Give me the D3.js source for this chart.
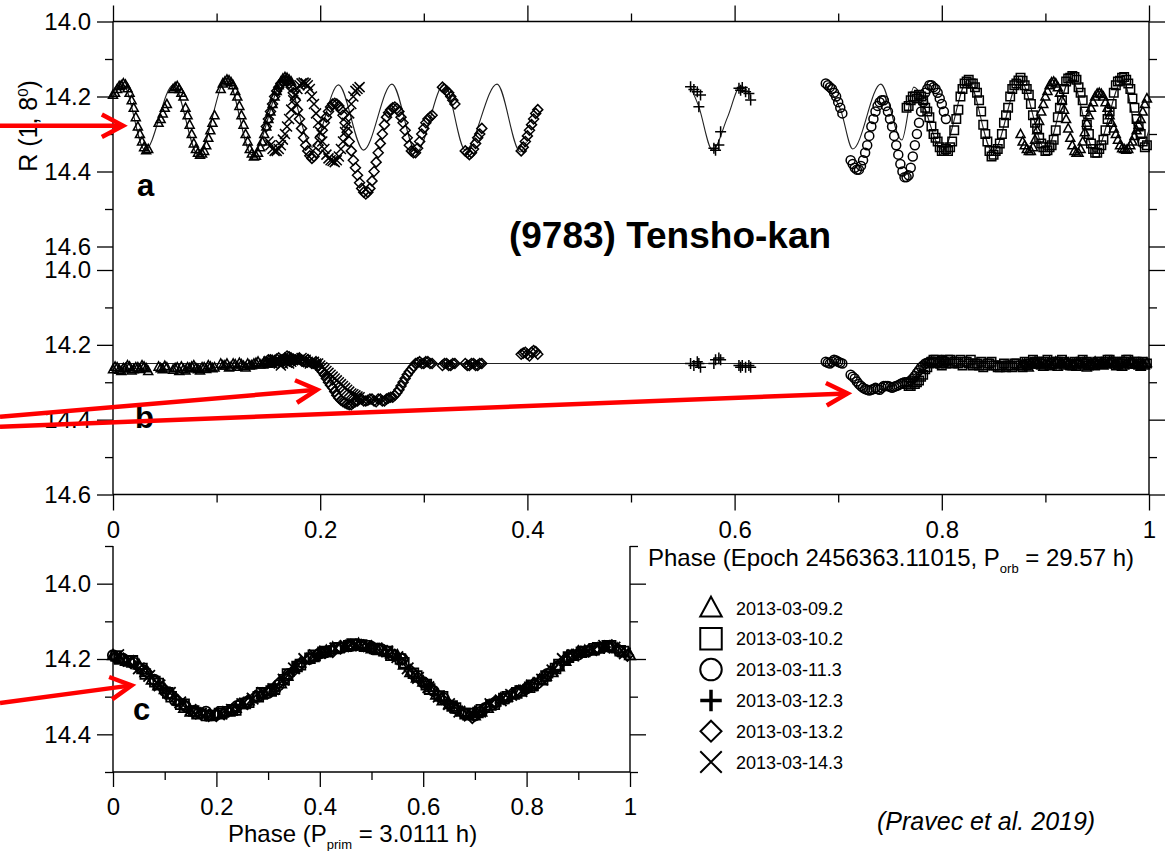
<!DOCTYPE html>
<html><head><meta charset="utf-8">
<script src="https://cdn.jsdelivr.net/npm/d3@7"></script>
<style>body{margin:0;background:#fff}svg{display:block}</style>
</head><body><svg id="c" width="1173" height="851"></svg>
<script>
// ---------------- DATA ----------------
const sessionLabels = ["2013-03-09.2","2013-03-10.2","2013-03-11.3","2013-03-12.3","2013-03-13.2","2013-03-14.3"];
const symbolTypes = ["triangle","square","circle","plus","diamond","cross"];

// orbital phase, panel a (R mag) and panel b (R mag with rotation removed)
const triPhase = [0,0.004,0.008,0.012,0.016,0.020,0.024,0.028,0.032,0.044,0.048,0.052,0.060,0.064,0.068,0.072,0.076,0.080,0.084,0.088,0.092,0.096,0.104,0.108,0.112,0.116,0.120,0.124,0.128,0.132,0.136,0.140,0.144,0.148,0.152,0.156,0.160,0.164,0.168,0.172,
  0.876,0.880,0.884,0.888,0.892,0.896,0.900,0.904,0.908,0.912,0.916,0.920,0.924,0.928,0.932,0.936,0.940,0.944,0.948,0.952,0.956,0.960,0.964,0.968,0.972,0.976,0.980,0.984,0.988,0.992,0.996];
const triA = [14.195,14.18,14.17,14.168,14.19,14.23,14.28,14.32,14.343,14.27,14.245,14.22,14.175,14.18,14.20,14.25,14.30,14.34,14.355,14.345,14.31,14.27,14.18,14.16,14.157,14.17,14.20,14.25,14.30,14.34,14.36,14.35,14.32,14.28,14.24,14.20,14.17,14.152,14.15,14.16,
  14.30,14.33,14.345,14.335,14.29,14.24,14.20,14.17,14.16,14.175,14.21,14.26,14.31,14.345,14.35,14.32,14.27,14.23,14.20,14.19,14.20,14.23,14.27,14.30,14.33,14.34,14.34,14.32,14.29,14.26,14.22];
const triB = [14.265,14.26,14.27,14.262,14.258,14.265,14.26,14.255,14.262,14.258,14.265,14.26,14.262,14.27,14.265,14.26,14.258,14.262,14.268,14.26,14.255,14.262,14.25,14.255,14.26,14.25,14.258,14.252,14.26,14.255,14.25,14.245,14.252,14.248,14.245,14.242,14.245,14.24,14.238,14.242,
  14.255,14.25,14.26,14.252,14.248,14.255,14.25,14.245,14.252,14.258,14.25,14.245,14.255,14.25,14.248,14.255,14.26,14.25,14.245,14.252,14.255,14.25,14.245,14.252,14.248,14.255,14.25,14.245,14.252,14.258,14.255];
const triPhase2 = [0.002,0.006,0.010,0.014,0.018,0.022,0.026,0.030,0.034,0.046,0.050,0.058,0.062,0.066,0.070,0.074,0.078,0.082,0.086,0.090,0.094,0.098,0.106,0.110,0.114,0.118,0.122,0.126,0.130,0.134,0.138,0.142,0.146,0.150,0.154,0.158,0.162,0.166,0.170,
  0.878,0.882,0.886,0.890,0.894,0.898,0.902,0.906,0.910,0.914,0.918,0.922,0.926,0.930,0.934,0.938,0.942,0.946,0.950,0.954,0.958,0.962,0.966,0.970,0.974,0.978,0.982,0.986,0.990,0.994,0.998];
const triA2 = [14.19,14.172,14.165,14.178,14.21,14.255,14.30,14.335,14.34,14.26,14.23,14.18,14.172,14.19,14.23,14.275,14.325,14.35,14.352,14.33,14.29,14.25,14.165,14.155,14.162,14.185,14.225,14.275,14.32,14.352,14.358,14.335,14.30,14.26,14.22,14.185,14.16,14.148,14.155,
  14.32,14.34,14.345,14.315,14.265,14.22,14.185,14.162,14.165,14.19,14.235,14.285,14.33,14.35,14.34,14.295,14.25,14.215,14.192,14.193,14.215,14.25,14.285,14.315,14.338,14.342,14.33,14.305,14.275,14.24,14.205];
const triB2 = [14.258,14.266,14.262,14.255,14.268,14.26,14.264,14.258,14.27,14.262,14.256,14.266,14.26,14.258,14.268,14.262,14.255,14.265,14.26,14.264,14.258,14.26,14.255,14.25,14.258,14.252,14.248,14.256,14.25,14.254,14.248,14.252,14.245,14.25,14.242,14.246,14.24,14.236,14.24,
  14.25,14.255,14.248,14.245,14.252,14.258,14.25,14.255,14.245,14.25,14.255,14.248,14.252,14.258,14.25,14.245,14.252,14.255,14.25,14.248,14.252,14.245,14.25,14.255,14.258,14.25,14.245,14.252,14.255,14.25,14.248];

const sqPhase = [0.766,0.770,0.774,0.778,0.782,0.786,0.790,0.794,0.798,0.802,0.806,0.810,0.814,0.818,0.822,0.826,0.830,0.834,0.838,0.842,0.846,0.850,0.854,0.858,0.862,0.866,0.870,0.874,0.878,0.882,0.886,0.890,0.894,0.898,0.902,0.906,0.910,0.914,0.918,0.922,0.926,0.930,0.934,0.938,0.942,0.946,0.950,0.954,0.958,0.962,0.966,0.970,0.974,0.978,0.982,0.986,0.990,0.994,0.998];
const sqA = [14.23,14.21,14.20,14.195,14.21,14.24,14.28,14.31,14.335,14.345,14.345,14.32,14.26,14.20,14.165,14.155,14.165,14.19,14.24,14.30,14.345,14.355,14.34,14.30,14.25,14.20,14.17,14.157,14.158,14.18,14.22,14.27,14.31,14.335,14.343,14.33,14.29,14.23,14.18,14.152,14.145,14.155,14.19,14.24,14.30,14.34,14.35,14.33,14.29,14.24,14.19,14.16,14.15,14.155,14.18,14.23,14.28,14.32,14.33];
const sqB = [14.305,14.31,14.305,14.295,14.28,14.26,14.245,14.24,14.25,14.245,14.24,14.25,14.245,14.24,14.245,14.25,14.255,14.25,14.245,14.255,14.25,14.255,14.26,14.255,14.26,14.255,14.25,14.255,14.26,14.255,14.25,14.245,14.25,14.245,14.24,14.25,14.245,14.25,14.245,14.25,14.255,14.25,14.245,14.25,14.255,14.25,14.245,14.25,14.245,14.24,14.245,14.25,14.245,14.24,14.25,14.245,14.25,14.245,14.25];
const sqPhase2 = [0.768,0.772,0.776,0.780,0.784,0.788,0.792,0.796,0.800,0.804,0.808,0.812,0.816,0.820,0.824,0.828,0.832,0.836,0.840,0.844,0.848,0.852,0.856,0.860,0.864,0.868,0.872,0.876,0.880,0.884,0.888,0.892,0.896,0.900,0.904,0.908,0.912,0.916,0.920,0.924,0.928,0.932,0.936,0.940,0.944,0.948,0.952,0.956,0.960,0.964,0.968,0.972,0.976,0.980,0.984,0.988,0.992,0.996];
const sqA2 = [14.225,14.20,14.205,14.20,14.23,14.255,14.30,14.32,14.345,14.34,14.335,14.29,14.235,14.18,14.16,14.165,14.175,14.21,14.275,14.32,14.36,14.345,14.325,14.27,14.23,14.18,14.165,14.15,14.17,14.195,14.25,14.285,14.325,14.345,14.335,14.315,14.255,14.21,14.16,14.15,14.148,14.175,14.21,14.275,14.325,14.35,14.34,14.315,14.26,14.22,14.17,14.158,14.148,14.165,14.205,14.26,14.30,14.335];
const sqB2 = [14.31,14.30,14.30,14.285,14.265,14.25,14.24,14.245,14.255,14.25,14.24,14.245,14.25,14.255,14.245,14.24,14.25,14.255,14.26,14.25,14.245,14.255,14.26,14.25,14.255,14.26,14.25,14.255,14.245,14.25,14.24,14.245,14.25,14.245,14.255,14.25,14.245,14.24,14.25,14.255,14.245,14.25,14.24,14.245,14.25,14.255,14.245,14.25,14.24,14.245,14.255,14.25,14.245,14.24,14.25,14.245,14.255,14.25];

const circPhase = [0.688,0.692,0.696,0.700,0.704,0.712,0.716,0.720,0.724,0.728,0.732,0.736,0.740,0.744,0.748,0.752,0.756,0.760,0.764,0.768,0.772,0.776,0.780,0.784,0.788,0.792,0.796,0.800,0.804];
const circA = [14.165,14.175,14.19,14.215,14.245,14.37,14.39,14.395,14.37,14.33,14.28,14.24,14.215,14.21,14.24,14.28,14.33,14.38,14.415,14.41,14.36,14.30,14.24,14.19,14.17,14.175,14.19,14.22,14.26];
const circB = [14.245,14.25,14.24,14.245,14.25,14.28,14.29,14.305,14.315,14.32,14.32,14.315,14.32,14.31,14.31,14.315,14.31,14.305,14.30,14.30,14.29,14.275,14.26,14.25,14.245,14.245,14.25,14.24,14.245];
const circPhase2 = [0.690,0.694,0.698,0.702,0.714,0.718,0.722,0.726,0.730,0.734,0.738,0.742,0.746,0.750,0.754,0.758,0.762,0.766,0.770,0.774,0.778,0.782,0.786,0.790,0.794,0.798,0.802];
const circA2 = [14.17,14.18,14.20,14.23,14.38,14.395,14.385,14.35,14.305,14.26,14.225,14.21,14.225,14.26,14.305,14.355,14.40,14.415,14.39,14.33,14.27,14.215,14.18,14.17,14.18,14.205,14.24];
const circB2 = [14.248,14.245,14.242,14.248,14.285,14.298,14.31,14.318,14.322,14.318,14.318,14.315,14.31,14.312,14.312,14.308,14.302,14.30,14.295,14.283,14.268,14.255,14.248,14.245,14.248,14.245,14.242];

const plusPhase = [0.5575,0.5607,0.5640,0.5655,0.5671,0.5800,0.5816,0.5848,0.5865,0.6042,0.6058,0.6074,0.6106,0.6138,0.6155];
const plusA = [14.174,14.181,14.187,14.227,14.196,14.338,14.343,14.329,14.294,14.178,14.183,14.176,14.187,14.192,14.209];
const plusB = [14.25,14.255,14.245,14.25,14.26,14.25,14.24,14.235,14.24,14.255,14.26,14.255,14.26,14.255,14.26];

const diaPhase = [0.148,0.152,0.156,0.160,0.164,0.168,0.172,0.176,0.180,0.184,0.188,0.192,0.196,0.200,0.204,0.208,0.212,0.216,0.220,0.224,0.228,0.232,0.236,0.240,0.244,0.248,0.252,0.256,0.260,0.264,0.268,0.272,0.276,0.280,0.284,0.288,0.292,0.296,0.300,0.304,0.308,0.318,0.322,0.326,0.330,0.340,0.344,0.348,0.352,0.356,0.394,0.398,0.402,0.406,0.410];
const diaA = [14.28,14.24,14.20,14.175,14.16,14.16,14.175,14.21,14.26,14.31,14.345,14.365,14.35,14.31,14.27,14.24,14.22,14.22,14.235,14.27,14.32,14.37,14.41,14.445,14.46,14.445,14.40,14.35,14.30,14.255,14.235,14.228,14.24,14.27,14.31,14.345,14.35,14.32,14.285,14.26,14.25,14.175,14.185,14.20,14.22,14.345,14.355,14.34,14.31,14.285,14.345,14.32,14.29,14.26,14.235];
const diaB = [14.245,14.24,14.245,14.235,14.24,14.23,14.235,14.24,14.235,14.245,14.24,14.25,14.245,14.265,14.28,14.30,14.315,14.335,14.348,14.355,14.36,14.355,14.35,14.345,14.35,14.345,14.35,14.345,14.35,14.345,14.34,14.335,14.32,14.30,14.28,14.265,14.25,14.245,14.25,14.245,14.25,14.255,14.25,14.255,14.25,14.25,14.255,14.25,14.255,14.25,14.225,14.22,14.23,14.215,14.225];
const diaPhase2 = [0.150,0.154,0.158,0.162,0.166,0.170,0.174,0.178,0.182,0.186,0.190,0.194,0.198,0.202,0.206,0.210,0.214,0.218,0.222,0.226,0.230,0.234,0.238,0.242,0.246,0.250,0.254,0.258,0.262,0.266,0.270,0.274,0.278,0.282,0.286,0.290,0.294,0.298,0.302,0.306,0.320,0.324,0.328,0.342,0.346,0.350,0.354,0.396,0.400,0.404,0.408];
const diaA2 = [14.26,14.22,14.185,14.165,14.158,14.165,14.19,14.235,14.285,14.33,14.358,14.36,14.33,14.29,14.255,14.228,14.218,14.225,14.25,14.295,14.345,14.39,14.43,14.455,14.455,14.425,14.375,14.325,14.275,14.243,14.23,14.232,14.255,14.29,14.33,14.35,14.338,14.30,14.27,14.255,14.18,14.19,14.21,14.35,14.35,14.325,14.30,14.335,14.305,14.275,14.245];
const diaB2 = [14.24,14.245,14.238,14.24,14.235,14.232,14.238,14.24,14.24,14.245,14.245,14.25,14.255,14.272,14.29,14.308,14.325,14.342,14.352,14.358,14.36,14.352,14.345,14.35,14.348,14.345,14.352,14.345,14.35,14.342,14.34,14.328,14.31,14.29,14.272,14.258,14.248,14.25,14.245,14.25,14.25,14.255,14.25,14.255,14.25,14.255,14.25,14.222,14.225,14.22,14.218];

const xPhase = [0.150,0.154,0.158,0.162,0.166,0.170,0.174,0.178,0.182,0.186,0.190,0.194,0.198,0.202,0.206,0.210,0.214,0.218,0.222,0.226,0.230,0.234,0.238];
const xA = [14.32,14.34,14.345,14.33,14.30,14.26,14.21,14.18,14.165,14.165,14.18,14.22,14.27,14.32,14.355,14.37,14.375,14.36,14.32,14.27,14.22,14.185,14.175];
const xB = [14.245,14.25,14.24,14.255,14.245,14.25,14.24,14.245,14.235,14.24,14.25,14.245,14.25,14.26,14.27,14.28,14.29,14.30,14.31,14.32,14.33,14.335,14.34];
const xPhase2 = [0.152,0.156,0.160,0.164,0.168,0.172,0.176,0.180,0.184,0.188,0.192,0.196,0.200,0.204,0.208,0.212,0.216,0.220,0.224,0.228,0.232,0.236];
const xA2 = [14.33,14.345,14.34,14.315,14.28,14.235,14.195,14.17,14.163,14.17,14.20,14.245,14.295,14.34,14.365,14.372,14.37,14.34,14.295,14.245,14.20,14.18];
const xB2 = [14.248,14.245,14.25,14.25,14.248,14.245,14.24,14.24,14.238,14.245,14.248,14.25,14.255,14.265,14.275,14.285,14.295,14.305,14.315,14.325,14.332,14.338];

// model (rotation only) line in panel a, three pieces; flat model in panel b
const model1Phase = [0,0.0099,0.0309,0.0583,0.0824,0.1099,0.1343,0.1662,0.1923,0.2177,0.2418,0.2693,0.2928,0.3198,0.3401,0.3707,0.3932,0.399];
const model1Mag = [14.201,14.169,14.343,14.169,14.356,14.151,14.356,14.148,14.335,14.169,14.343,14.167,14.348,14.167,14.343,14.167,14.348,14.321];
const model2Phase = [0.5575,0.5652,0.5787,0.5932,0.6058,0.6155];
const model2Mag = [14.175,14.225,14.343,14.255,14.172,14.196];
const model3Phase = [0.6879,0.7024,0.714,0.7411,0.7614,0.773,0.801,0.8251,0.8493,0.8754,0.9005,0.9246,0.9478,0.9749,0.9923,1.0];
const model3Mag = [14.169,14.236,14.34,14.167,14.316,14.175,14.343,14.156,14.348,14.156,14.343,14.151,14.348,14.156,14.337,14.289];
const modelBPhase = [0, 1];
const modelB = [14.25, 14.25];

// panel c: primary rotation phase
const triRot = [0,0.025,0.05,0.075,0.1,0.125,0.15,0.175,0.2,0.225,0.25,0.275,0.3,0.325,0.35,0.375,0.4,0.425,0.45,0.475,0.5,0.525,0.55,0.575,0.6,0.625,0.65,0.675,0.7,0.725,0.75,0.775,0.8,0.825,0.85,0.875,0.9,0.925,0.95,0.975,1.0];
const triC = [14.19,14.205,14.215,14.255,14.28,14.31,14.34,14.345,14.345,14.34,14.32,14.30,14.285,14.265,14.225,14.20,14.185,14.17,14.168,14.16,14.172,14.18,14.19,14.235,14.26,14.295,14.32,14.34,14.35,14.33,14.305,14.295,14.275,14.255,14.235,14.205,14.18,14.178,14.168,14.172,14.19];
const triRot2 = [0.0125,0.0375,0.0625,0.0875,0.1125,0.1375,0.1625,0.1875,0.2125,0.2375,0.2625,0.2875,0.3125,0.3375,0.3625,0.3875,0.4125,0.4375,0.4625,0.4875,0.5125,0.5375,0.5625,0.5875,0.6125,0.6375,0.6625,0.6875,0.7125,0.7375,0.7625,0.7875,0.8125,0.8375,0.8625,0.8875,0.9125,0.9375,0.9625,0.9875];
const triC2 = [14.198,14.21,14.235,14.27,14.295,14.33,14.34,14.35,14.342,14.33,14.31,14.295,14.275,14.245,14.21,14.195,14.178,14.17,14.165,14.168,14.175,14.185,14.215,14.25,14.275,14.31,14.33,14.35,14.34,14.315,14.30,14.285,14.265,14.245,14.22,14.19,14.178,14.172,14.168,14.182];
const sqRot = [0.0125,0.0375,0.0625,0.0875,0.1125,0.1375,0.1625,0.1875,0.2125,0.2375,0.2625,0.2875,0.3125,0.3375,0.3625,0.3875,0.4125,0.4375,0.4625,0.4875,0.5125,0.5375,0.5625,0.5875,0.6125,0.6375,0.6625,0.6875,0.7125,0.7375,0.7625,0.7875,0.8125,0.8375,0.8625,0.8875,0.9125,0.9375,0.9625,0.9875];
const sqC = [14.20,14.205,14.24,14.265,14.30,14.32,14.345,14.35,14.34,14.335,14.315,14.29,14.28,14.24,14.215,14.19,14.18,14.17,14.16,14.165,14.175,14.19,14.21,14.245,14.28,14.30,14.33,14.345,14.335,14.32,14.30,14.285,14.27,14.245,14.215,14.19,14.18,14.17,14.165,14.18];
const sqRot2 = [0.006,0.031,0.056,0.081,0.106,0.131,0.156,0.181,0.206,0.231,0.256,0.281,0.306,0.331,0.356,0.381,0.406,0.431,0.456,0.481,0.506,0.531,0.556,0.581,0.606,0.631,0.656,0.681,0.706,0.731,0.756,0.781,0.806,0.831,0.856,0.881,0.906,0.931,0.956,0.981];
const sqC2 = [14.192,14.205,14.225,14.26,14.29,14.32,14.338,14.35,14.345,14.335,14.318,14.30,14.285,14.255,14.22,14.198,14.182,14.172,14.165,14.163,14.172,14.18,14.20,14.238,14.268,14.298,14.325,14.345,14.342,14.322,14.305,14.29,14.275,14.255,14.225,14.195,14.182,14.173,14.165,14.178];
const circRot = [0.02,0.06,0.10,0.14,0.18,0.22,0.26,0.30,0.34,0.38,0.42,0.46,0.50,0.54,0.58,0.62,0.66,0.70,0.74,0.78,0.82,0.86,0.90,0.94,0.98];
const circC = [14.20,14.23,14.285,14.325,14.34,14.34,14.315,14.29,14.24,14.20,14.178,14.165,14.168,14.19,14.24,14.285,14.33,14.35,14.315,14.29,14.265,14.22,14.188,14.17,14.18];
const circRot2 = [0,0.04,0.08,0.12,0.16,0.20,0.24,0.28,0.32,0.36,0.40,0.44,0.48,0.52,0.56,0.60,0.64,0.68,0.72,0.76,0.80,0.84,0.88,0.92,0.96];
const circC2 = [14.19,14.21,14.255,14.31,14.34,14.348,14.325,14.30,14.27,14.215,14.185,14.17,14.163,14.175,14.20,14.262,14.305,14.345,14.33,14.305,14.278,14.24,14.198,14.178,14.168];
const plusRot = [0.35,0.40,0.45,0.50,0.55,0.60,0.65,0.70,0.75,0.80,0.85,0.90,0.95];
const plusC = [14.23,14.19,14.165,14.172,14.20,14.26,14.32,14.34,14.31,14.28,14.235,14.19,14.17];
const diaRot = [0.005,0.035,0.065,0.095,0.125,0.155,0.185,0.215,0.245,0.275,0.305,0.335,0.365,0.395,0.425,0.455,0.485,0.515,0.545,0.575,0.605,0.635,0.665,0.695,0.725,0.755,0.785,0.815,0.845,0.875,0.905,0.935,0.965,0.995];
const diaC = [14.195,14.21,14.235,14.275,14.31,14.34,14.35,14.345,14.32,14.30,14.285,14.25,14.21,14.19,14.18,14.165,14.165,14.175,14.19,14.23,14.265,14.305,14.335,14.355,14.325,14.305,14.285,14.265,14.235,14.20,14.182,14.175,14.165,14.19];
const diaRot2 = [0.02,0.05,0.08,0.11,0.14,0.17,0.20,0.23,0.26,0.29,0.32,0.35,0.38,0.41,0.44,0.47,0.50,0.53,0.56,0.59,0.62,0.65,0.68,0.71,0.74,0.77,0.80,0.83,0.86,0.89,0.92,0.95,0.98];
const diaC2 = [14.20,14.222,14.258,14.29,14.325,14.345,14.35,14.335,14.312,14.292,14.265,14.23,14.198,14.183,14.17,14.163,14.17,14.18,14.20,14.25,14.285,14.32,14.345,14.34,14.315,14.295,14.278,14.255,14.22,14.19,14.178,14.168,14.178];
const xRot = [0.01,0.05,0.09,0.13,0.17,0.21,0.25,0.29,0.33,0.37,0.41,0.45,0.49,0.53,0.57,0.61,0.65,0.69,0.73,0.77,0.81,0.85,0.89,0.93,0.97];
const xC = [14.19,14.225,14.27,14.315,14.345,14.345,14.32,14.29,14.255,14.20,14.18,14.165,14.165,14.18,14.225,14.275,14.32,14.35,14.32,14.295,14.27,14.23,14.19,14.175,14.17];
const xRot2 = [0.03,0.07,0.11,0.15,0.19,0.23,0.27,0.31,0.35,0.39,0.43,0.47,0.51,0.55,0.59,0.63,0.67,0.71,0.75,0.79,0.83,0.87,0.91,0.95,0.99];
const xC2 = [14.205,14.245,14.29,14.335,14.35,14.335,14.305,14.28,14.225,14.19,14.172,14.162,14.172,14.195,14.25,14.30,14.34,14.34,14.31,14.285,14.255,14.20,14.18,14.165,14.185];

const yTicksAB = [14.0,14.2,14.4,14.6], yMinorAB = [14.1,14.3,14.5];
const yTicksC = [14.0,14.2,14.4], yMinorC = [13.9,14.1,14.3,14.5];
const xTicks = [0,0.2,0.4,0.6,0.8,1], xMinor = [0.1,0.3,0.5,0.7,0.9];

// ---------------- DRAWING ----------------
const FONT = "'Liberation Sans', Arial, Helvetica, sans-serif";
const svg = d3.select("#c");
svg.append("rect").attr("width",1173).attr("height",851).attr("fill","#fff");

const xAB = d3.scaleLinear().domain([0,1]).range([113,1149]);
const yA = d3.scaleLinear().domain([14.0,14.6]).range([21.5,246.5]);
const yB = d3.scaleLinear().domain([14.0,14.6]).range([270,494.5]);
const xCs = d3.scaleLinear().domain([0,1]).range([113,630]);
const yCs = d3.scaleLinear().domain([13.9,14.5]).range([546,772]);

function axisG(axis, tx, ty){
  const g = svg.append("g").attr("transform",`translate(${tx},${ty})`).call(axis);
  g.attr("font-family",FONT).attr("font-size",24);
  g.select(".domain").remove();
  g.selectAll(".tick line").attr("stroke","#000").attr("stroke-width",1.3);
  g.selectAll(".tick text").attr("fill","#000");
  return g;
}
const f1 = d3.format(".1f"), fg = d3.format("~g");

// frame lines
const frame = [
  [xAB(0),yA(14.0),xAB(0),yB(14.6)],[xAB(1),yA(14.0),xAB(1),yB(14.6)],
  [xAB(0),yA(14.0),xAB(1),yA(14.0)],[xAB(0),yB(14.6),xAB(1),yB(14.6)],
  [xCs(0),yCs(13.9),xCs(0),yCs(14.5)],[xCs(0),yCs(14.5),xCs(1),yCs(14.5)],[xCs(1),yCs(13.9),xCs(1),yCs(14.5)]
];
svg.append("g").selectAll("line").data(frame).join("line")
  .attr("x1",d=>d[0]).attr("y1",d=>d[1]).attr("x2",d=>d[2]).attr("y2",d=>d[3])
  .attr("stroke","#000").attr("stroke-width",1.4);

// panel a axes
axisG(d3.axisLeft(yA).tickValues(yTicksAB).tickSize(16).tickPadding(6).tickFormat(f1),113,0);
axisG(d3.axisLeft(yA).tickValues(yMinorAB).tickSize(8).tickFormat(""),113,0);
axisG(d3.axisRight(yA).tickValues(yTicksAB).tickSize(16).tickFormat(""),1149,0);
axisG(d3.axisRight(yA).tickValues(yMinorAB).tickSize(8).tickFormat(""),1149,0);
axisG(d3.axisTop(xAB).tickValues(xTicks).tickSize(16).tickFormat(""),0,yA(14.0));
axisG(d3.axisTop(xAB).tickValues(xMinor).tickSize(8).tickFormat(""),0,yA(14.0));
// panel b axes
axisG(d3.axisLeft(yB).tickValues(yTicksAB).tickSize(16).tickPadding(6).tickFormat(f1),113,0);
axisG(d3.axisLeft(yB).tickValues(yMinorAB).tickSize(8).tickFormat(""),113,0);
axisG(d3.axisRight(yB).tickValues(yTicksAB).tickSize(16).tickFormat(""),1149,0);
axisG(d3.axisRight(yB).tickValues(yMinorAB).tickSize(8).tickFormat(""),1149,0);
axisG(d3.axisBottom(xAB).tickValues(xTicks).tickSize(16).tickPadding(10.5).tickFormat(fg),0,yB(14.6));
axisG(d3.axisBottom(xAB).tickValues(xMinor).tickSize(8).tickFormat(""),0,yB(14.6));
// panel c axes
axisG(d3.axisLeft(yCs).tickValues(yTicksC).tickSize(16).tickPadding(6).tickFormat(f1),113,0);
axisG(d3.axisLeft(yCs).tickValues(yMinorC).tickSize(8).tickFormat(""),113,0);
axisG(d3.axisRight(yCs).tickValues(yTicksC).tickSize(16).tickFormat(""),630,0);
axisG(d3.axisRight(yCs).tickValues(yMinorC).tickSize(8).tickFormat(""),630,0);
axisG(d3.axisBottom(xCs).tickValues(xTicks).tickSize(15).tickPadding(11).tickFormat(fg),0,yCs(14.5));
axisG(d3.axisBottom(xCs).tickValues(xMinor).tickSize(8).tickFormat(""),0,yCs(14.5));

// symbols
function sym(type, s){
  const h = s/2;
  switch(type){
    case "triangle": return `M0,${-h*1.05}L${h},${h*0.8}L${-h},${h*0.8}Z`;
    case "square": return `M${-h},${-h}H${h}V${h}H${-h}Z`;
    case "circle": return `M${h},0A${h},${h} 0 1,1 ${-h},0A${h},${h} 0 1,1 ${h},0Z`;
    case "plus": return `M${-h},0H${h}M0,${-h}V${h}`;
    case "diamond": return `M0,${-h}L${h},0L0,${h}L${-h},0Z`;
    case "cross": return `M${-h},${-h}L${h},${h}M${h},${-h}L${-h},${h}`;
  }
}
function pts(xs, ys, ph, mg, type, size, sw){
  svg.append("g").selectAll("path").data(d3.zip(ph,mg)).join("path")
    .attr("transform",d=>`translate(${xs(d[0])},${ys(d[1])})`)
    .attr("d",sym(type,size)).attr("fill","none").attr("stroke","#000").attr("stroke-width",sw);
}

// model lines
const lineA = d3.line().x(d=>xAB(d[0])).y(d=>yA(d[1])).curve(d3.curveMonotoneX);
[[model1Phase,model1Mag],[model2Phase,model2Mag],[model3Phase,model3Mag]].forEach(([p,m])=>{
  svg.append("path").attr("d",lineA(d3.zip(p,m))).attr("fill","none").attr("stroke","#222").attr("stroke-width",1.1);
});
svg.append("path").attr("d",d3.line().x(d=>xAB(d[0])).y(d=>yB(d[1]))(d3.zip(modelBPhase,modelB)))
  .attr("fill","none").attr("stroke","#222").attr("stroke-width",1.1);

const sets = [
  [triPhase.concat(triPhase2),triA.concat(triA2),triB.concat(triB2),triRot.concat(triRot2),triC.concat(triC2),"triangle",9],
  [sqPhase.concat(sqPhase2),sqA.concat(sqA2),sqB.concat(sqB2),sqRot.concat(sqRot2),sqC.concat(sqC2),"square",8.5],
  [circPhase.concat(circPhase2),circA.concat(circA2),circB.concat(circB2),circRot.concat(circRot2),circC.concat(circC2),"circle",9],
  [plusPhase,plusA,plusB,plusRot,plusC,"plus",11],
  [diaPhase.concat(diaPhase2),diaA.concat(diaA2),diaB.concat(diaB2),diaRot.concat(diaRot2),diaC.concat(diaC2),"diamond",10],
  [xPhase.concat(xPhase2),xA.concat(xA2),xB.concat(xB2),xRot.concat(xRot2),xC.concat(xC2),"cross",10]
];
sets.forEach(([p,a,b,r,c,t,s])=>{
  pts(xAB,yA,p,a,t,s,1.5);
  pts(xAB,yB,p,b,t,s,1.5);
  pts(xCs,yCs,r,c,t,s*1.15,1.8);
});

// texts
function txt(x,y,str,opt={}){
  const t = svg.append("text").attr("x",x).attr("y",y).attr("font-family",FONT)
    .attr("font-size",opt.size||24).attr("fill","#000");
  if(opt.weight) t.attr("font-weight",opt.weight);
  if(opt.anchor) t.attr("text-anchor",opt.anchor);
  if(opt.style) t.attr("font-style",opt.style);
  t.text(str);
  return t;
}
txt(670,248,"(9783) Tensho-kan",{size:37,weight:"bold",anchor:"middle"});
txt(137,196,"a",{size:31,weight:"bold"});
txt(135,428,"b",{size:31,weight:"bold"});
txt(133,720,"c",{size:31,weight:"bold"});

const yl = svg.append("text").attr("transform","translate(37,126) rotate(-90)")
  .attr("text-anchor","middle").attr("font-family",FONT).attr("font-size",25).attr("fill","#000");
yl.append("tspan").text("R (1, 8");
yl.append("tspan").attr("dy",-9).attr("font-size",15).text("0");
yl.append("tspan").attr("dy",9).text(")");

const xlb = txt(648,566,"Phase (Epoch 2456363.11015, P");
xlb.append("tspan").attr("dy",7).attr("font-size",13).text("orb");
xlb.append("tspan").attr("dy",-7).text(" = 29.57 h)");

const xlc = txt(228,842,"Phase (P");
xlc.append("tspan").attr("dy",7).attr("font-size",13).text("prim");
xlc.append("tspan").attr("dy",-7).text(" = 3.0111 h)");

txt(877,830,"(Pravec et al. 2019)",{size:25,style:"italic"});

// legend
sessionLabels.forEach((lab,i)=>{
  const cy = 608 + i*30.8;
  const sw = symbolTypes[i]==="plus" ? 3.5 : 2;
  svg.append("path").attr("transform",`translate(711,${cy})`).attr("d",sym(symbolTypes[i],symbolTypes[i]==="diamond"?21:21.5))
    .attr("fill","none").attr("stroke","#000").attr("stroke-width",sw);
  txt(736,cy+6.5,lab,{size:18});
});

// red arrows (annotations)
function arrow(x0,y0,x1,y1){
  const a = Math.atan2(y1-y0,x1-x0), L = 24, w = 28*Math.PI/180;
  const p1 = [x1-L*Math.cos(a-w), y1-L*Math.sin(a-w)];
  const p2 = [x1-L*Math.cos(a+w), y1-L*Math.sin(a+w)];
  const g = svg.append("g").attr("stroke","#ff0000").attr("stroke-width",4.5).attr("fill","none");
  g.append("line").attr("x1",x0).attr("y1",y0).attr("x2",x1).attr("y2",y1);
  g.append("path").attr("d",`M${p1[0]},${p1[1]}L${x1},${y1}L${p2[0]},${p2[1]}`);
}
arrow(0,yA(14.278),xAB(0.0097),yA(14.278));
arrow(0,416.7,xAB(0.197),yB(14.32));
arrow(0,426.7,xAB(0.709),yB(14.33));
arrow(0,703,xCs(0.036),yCs(14.27));
</script></body></html>
